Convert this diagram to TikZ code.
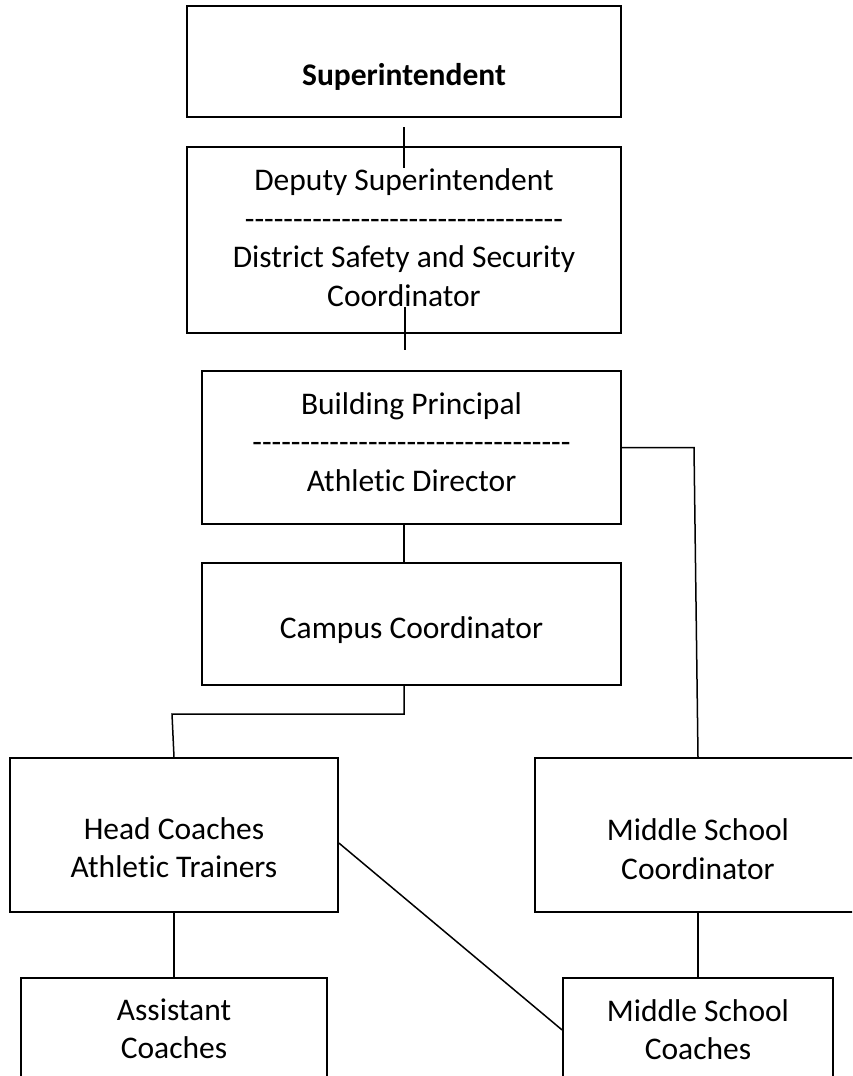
\documentclass[tikz,border=0pt]{standalone}
\usepackage{fontspec}
\setmainfont{Carlito}[Ligatures={TeXOff,NoCommon}]
\begin{document}
\begin{tikzpicture}[x=1pt,y=-1pt,
  box/.style={draw=black,line width=1.7pt,rectangle,inner sep=0pt,minimum width=#1},
  lbl/.style={align=center,inner sep=0pt,font=\fontsize{31.5}{38.5}\selectfont},
  conn/.style={draw=black,line width=1.5pt}]
\useasboundingbox (0,0) rectangle (852,1076);
\fill[white] (0,0) rectangle (852,1076);
\clip (0,0) rectangle (852,1076);
% boxes
\node[box=434pt,minimum height=111pt] (sup) at (404,61.5) {};
\node[box=434pt,minimum height=186pt] (dep) at (404,240) {};
\node[box=419pt,minimum height=153pt] (bp) at (411.5,447.5) {};
\node[box=419pt,minimum height=122pt] (cc) at (411.5,624) {};
\node[box=328pt,minimum height=154pt] (hc) at (174,835) {};
\node[box=326pt,minimum height=154pt] (msc) at (698,835) {};
\node[box=306pt,minimum height=122pt] (ac) at (174,1039) {};
\node[box=270pt,minimum height=122pt] (msco) at (698,1039) {};
% texts
\node[lbl,font=\fontsize{31.5}{38.5}\selectfont\bfseries] (supT) at (404,77) {Superintendent};
\node[lbl] (depT) at (404,237.5) {Deputy Superintendent\\---------------------------------\\District Safety and Security\\Coordinator};
\node[lbl] (bpT) at (411.5,442) {Building Principal\\---------------------------------\\Athletic Director};
\node[lbl] (ccT) at (411.5,630) {Campus Coordinator};
\node[lbl] (hcT) at (174,847.5) {Head Coaches\\Athletic Trainers};
\node[lbl] (mscT) at (698,849) {Middle School\\Coordinator};
\node[lbl] (acT) at (174,1029) {Assistant\\Coaches};
\node[lbl] (mscoT) at (698,1029.5) {Middle School\\Coaches};
% connector ends
\coordinate (s1) at (404,127);
\coordinate (s2) at (404,168);
\coordinate (d1) at (405,307);
\coordinate (d2) at (405,350);
\coordinate (k1) at (172,714);
\coordinate (k2) at (694,447.5);
% connectors
\draw[conn] (s1) -- (s2);
\draw[conn] (d1) -- (d2);
\draw[conn] ([xshift=-7.5pt]bp.south) -- ([xshift=-7.5pt]cc.north);
\draw[conn] ([xshift=-7.5pt]cc.south) -- ([xshift=-7.5pt]cc.south |- k1) -- (k1) -- (hc.north);
\draw[conn] (bp.east) -- (k2) -- (msc.north);
\draw[conn] (hc.south) -- (ac.north);
\draw[conn] ([yshift=-8pt]hc.east) -- ([yshift=9pt]msco.west);
\draw[conn] (msc.south) -- (msco.north);
\end{tikzpicture}
\end{document}
